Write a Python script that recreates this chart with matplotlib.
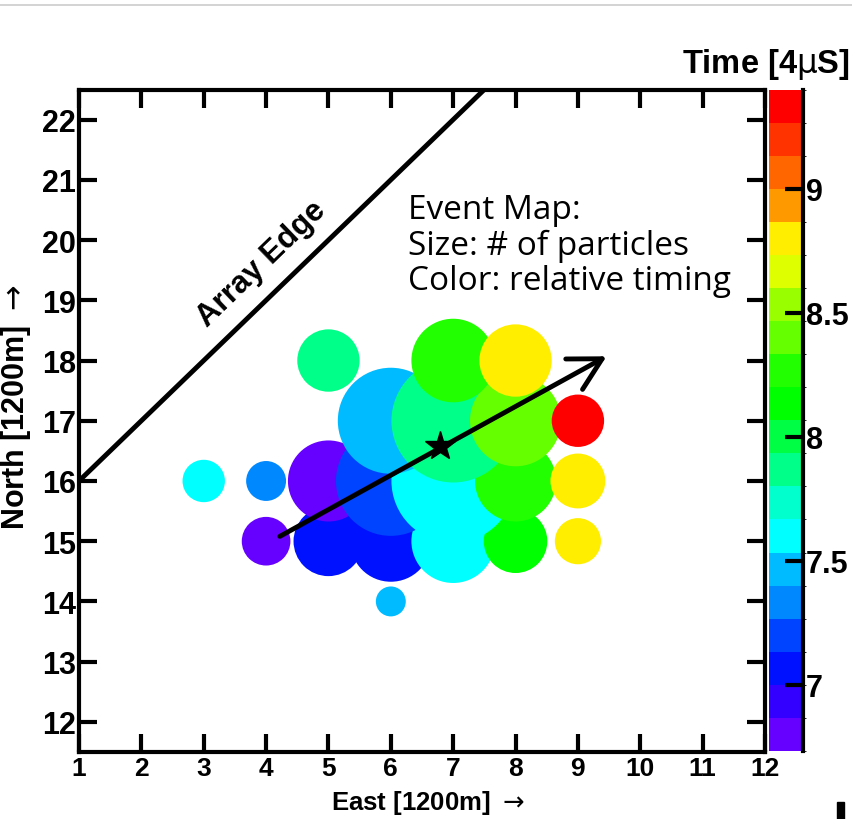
import matplotlib
matplotlib.use('Agg')
import matplotlib.pyplot as plt
from matplotlib.colors import ListedColormap, BoundaryNorm
from matplotlib.lines import Line2D
from matplotlib.patches import Rectangle
import numpy as np

# detector hits: grid position, circle radius (in East units) ~ particles, arrival time
east = [6, 4, 5, 6, 7, 8, 9, 3, 4, 5, 6, 7, 8, 9, 6, 7, 8, 9, 5, 7, 8]
north = [14, 15, 15, 15, 15, 15, 15, 16, 16, 16, 16, 16, 16, 16, 17, 17, 17, 17, 18, 18, 18]
particles = [0.24, 0.39, 0.56, 0.65, 0.67, 0.51, 0.37,
             0.34, 0.32, 0.65, 0.88, 0.99, 0.65, 0.44,
             0.85, 0.99, 0.73, 0.42,
             0.50, 0.67, 0.58]
timing = [7.47, 6.80, 7.07, 7.07, 7.60, 8.13, 8.80,
          7.60, 7.33, 6.80, 7.20, 7.60, 8.27, 8.80,
          7.47, 7.87, 8.40, 9.33,
          7.87, 8.27, 8.80]

core = (6.79, 16.58)
shower_start = (4.22, 15.08)
shower_end = (9.46, 18.07)
edge_x = [1, 7.5]
edge_y = [16, 22.5]

palette = ['#6600ff', '#3300ff', '#0011ff', '#0044ff', '#0088ff', '#00bbff',
           '#00ffff', '#00ffcc', '#00ff88', '#00ff44', '#00ff00', '#22ff00',
           '#66ff00', '#99ff00', '#ddff00', '#ffee00', '#ff9900', '#ff6600',
           '#ff3300', '#ff0000']
t_min, t_max = 6.7333, 9.4
cb_ticks = [7, 7.5, 8, 8.5, 9]
cb_labels = ['7', '7.5', '8', '8.5', '9']

BOLD = dict(family='Liberation Sans', fontweight='bold')
NARROW = ['DejaVu Sans Condensed', 'Liberation Sans']

W, H = 852, 820
fig = plt.figure(figsize=(W / 100, H / 100), dpi=100)
ax = fig.add_axes([79 / W, 1 - 753 / H, 686 / W, 662.5 / H])
ax.set_xlim(1, 12)
ax.set_ylim(11.5, 22.5)

cmap = ListedColormap(palette)
norm = BoundaryNorm(np.linspace(t_min, t_max, len(palette) + 1), cmap.N)

# radius in data units -> marker area in points^2
px_per_unit = ax.get_position().width * W / 11
rad_pt = np.array(particles) * px_per_unit * 72 / 100
sc = ax.scatter(east, north, s=(2 * rad_pt) ** 2, c=timing, cmap=cmap, norm=norm,
                edgecolors='none', zorder=2)

ax.plot(edge_x, edge_y, color='k', lw=3.5, zorder=3, solid_capstyle='butt')
ax.annotate('', xy=shower_end, xytext=shower_start,
            arrowprops=dict(arrowstyle='->,head_length=2.3,head_width=1.25',
                            lw=3.5, color='k', shrinkA=0, shrinkB=0), zorder=4)
ax.plot(*core, marker='*', ms=22, color='k', zorder=5)

ax.text(3.93, 19.62, 'Array Edge', rotation=44, ha='center', va='center',
        fontsize=22.5, **BOLD)
ax.text(6.27, 19.92, 'Event Map:\nSize: # of particles\nColor: relative timing',
        ha='left', va='center', fontsize=24, family='Open Sans',
        fontweight='normal', linespacing=1.1)

ax.set_xticks(range(1, 13))
ax.set_yticks(range(12, 23))
ax.tick_params(direction='in', length=13, width=3, top=True, right=True)
ax.tick_params(axis='x', pad=3)
ax.tick_params(axis='y', pad=2)
for lbl in ax.get_xticklabels():
    lbl.set_fontfamily(NARROW)
    lbl.set_fontweight('bold')
    lbl.set_fontsize(19)
for lbl in ax.get_yticklabels():
    lbl.set_fontfamily('Liberation Sans')
    lbl.set_fontweight('bold')
    lbl.set_fontsize(22)
for sp in ax.spines.values():
    sp.set_linewidth(3)

ax.set_xlabel('East [1200m] $\\rightarrow$', fontsize=18.5, fontweight='bold',
              family=NARROW)
ax.xaxis.set_label_coords((428 - 79) / 686, -(789 - 753) / 662.5)
ax.set_ylabel('North [1200m] $\\rightarrow$', fontsize=22, **BOLD)
ax.yaxis.set_label_coords((33 - 79) / 686, (753 - 407) / 662.5)

# colour scale
cax = fig.add_axes([769 / W, 1 - 752 / H, 34 / W, 661.5 / H])
cb = fig.colorbar(sc, cax=cax, ticks=cb_ticks)
cb.outline.set_visible(False)
cax.spines['right'].set_visible(True)
cax.spines['right'].set_linewidth(3)
cax.tick_params(direction='in', length=13, width=3, right=True, left=False, pad=2)
cax.set_yticklabels(cb_labels, fontsize=22, **BOLD)

fig.text(850 / W, 1 - 64 / H, 'Time [4$\\mathrm{\\mu}$S]', ha='right', va='center',
         fontsize=23.5, **BOLD)

fig.add_artist(Line2D([0, 1], [1 - 6 / H] * 2, color='#cccccc', lw=1.2,
                      transform=fig.transFigure))
fig.add_artist(Rectangle((837 / W, 0), 7 / W, 17 / H, color='k',
                         transform=fig.transFigure))

fig.savefig('out.png', dpi=100)
